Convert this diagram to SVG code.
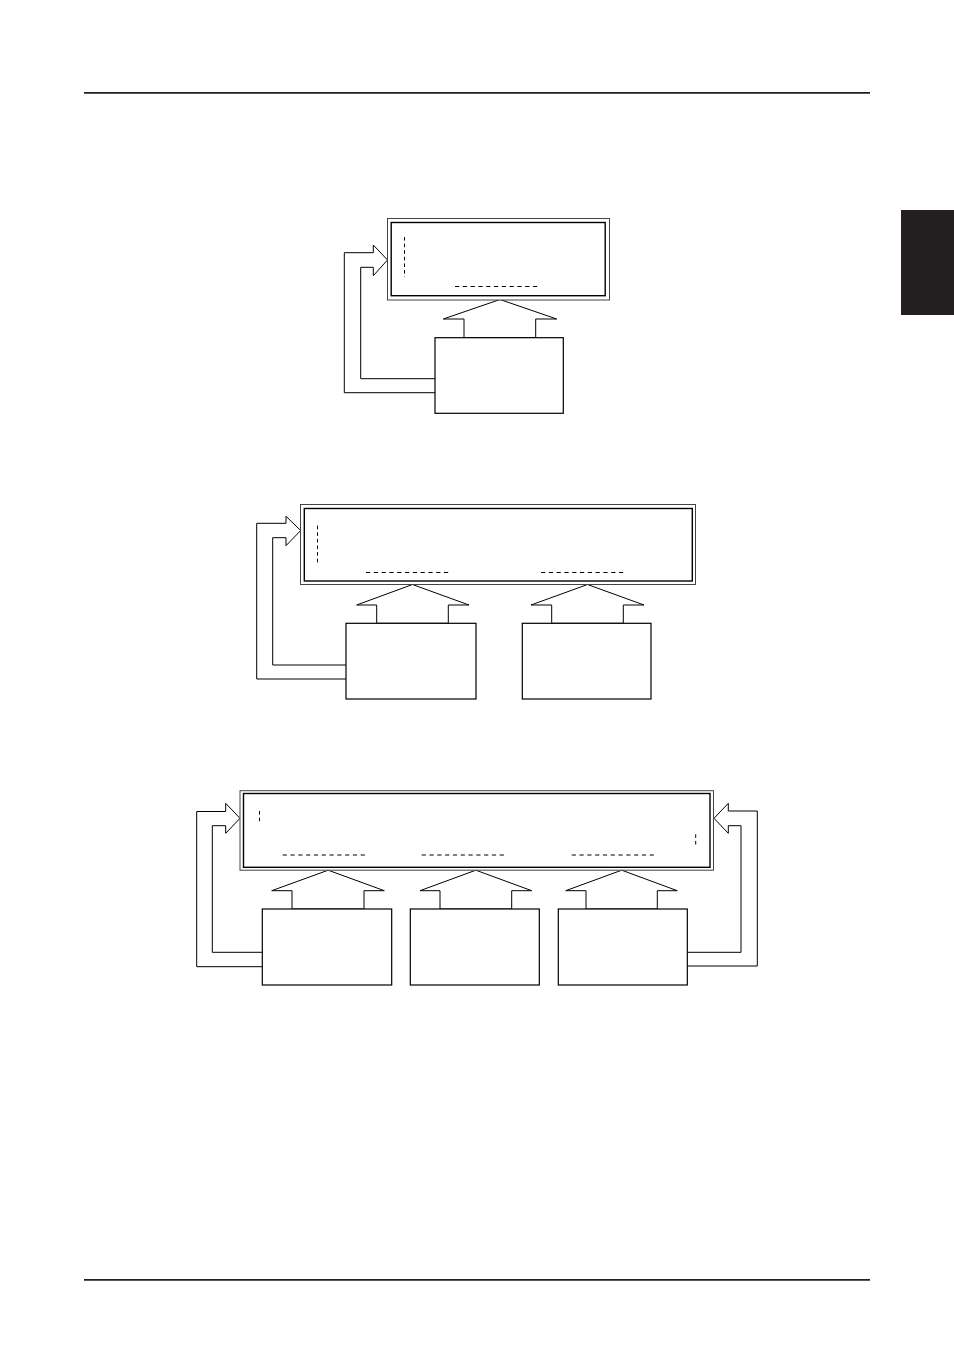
<svg xmlns="http://www.w3.org/2000/svg" width="954" height="1348" viewBox="0 0 954 1348">
<style>
.outer{fill:#fff;stroke:#444;stroke-width:1}
.inner{fill:none;stroke:#000;stroke-width:1.4}
.box{fill:#fff;stroke:#000;stroke-width:1.2}
.arr{fill:#fff;stroke:#000;stroke-width:1}
.fb{fill:#fff;stroke:#000;stroke-width:1;stroke-linejoin:miter}
.dh{stroke:#000;stroke-width:1;stroke-dasharray:4.2 3.6;fill:none}
.dv{stroke:#000;stroke-width:1;stroke-dasharray:3.6 3;fill:none}
.rule{stroke:#231f20;stroke-width:1.8}
</style>
<rect width="954" height="1348" fill="#fff"/>
<g id="page">
<line class="rule" x1="84" y1="92.8" x2="870" y2="92.8"/>
<line class="rule" x1="84" y1="1279.8" x2="870" y2="1279.8"/>
<rect x="901" y="210" width="53" height="105" fill="#231f20"/>
</g>

<g id="connectors">
<polygon class="arr" points="500,299.5 556.7,319 535.7,319 535.7,337.7 464,337.7 464,319 443.3,319"/>
<polyline class="fb" points="435,392.7 344.3,392.7 344.3,252.7 373.3,252.7 373.3,245 387.5,260 373.3,275.7 373.3,267.3 360.7,267.3 360.7,378.7 435,378.7"/>
<polygon class="arr" points="412.5,584.5 469,605 448.3,605 448.3,623.3 376.7,623.3 376.7,605 356.7,605"/>
<polygon class="arr" points="587.5,584.5 644,605 623.3,605 623.3,623.3 551.7,623.3 551.7,605 531,605"/>
<polyline class="fb" points="346,679 256.7,679 256.7,523.3 286,523.3 286,516.3 300.7,530.5 286,545.7 286,537.7 272.7,537.7 272.7,665 346,665"/>
<polygon class="arr" points="328.2,870.2 384.3,890.7 364,890.7 364,909 292,909 292,890.7 271.7,890.7"/>
<polygon class="arr" points="475.8,870.2 531.7,890.7 511.7,890.7 511.7,909 440,909 440,890.7 420,890.7"/>
<polygon class="arr" points="621.7,870.2 677.3,890.7 657.3,890.7 657.3,909 586,909 586,890.7 565.7,890.7"/>
<polyline class="fb" points="262.3,966.7 196.7,966.7 196.7,811.5 225.7,811.5 225.7,803.3 240,818.3 225.7,833.3 225.7,825.7 212.3,825.7 212.3,952.3 262.3,952.3"/>
<polyline class="fb" points="687.3,966 757.3,966 757.3,811 728.3,811 728.3,803.3 714,818.3 728.3,833.3 728.3,825.7 741,825.7 741,952.3 687.3,952.3"/>
</g>

<!-- Diagram 1 -->
<g id="d1-display">
<rect class="outer" x="387.5" y="218.5" width="222" height="81.5"/>
<rect class="inner" x="391.2" y="222.5" width="214" height="73.2"/>
<line class="dv" x1="404.5" y1="237" x2="404.5" y2="277"/>
<line class="dh" x1="455" y1="286.5" x2="540" y2="286.5"/>
</g>
<g id="d1-unit">
<rect class="box" x="435" y="337.7" width="128.3" height="75.6"/>
</g>

<!-- Diagram 2 -->
<g id="d2-display">
<rect class="outer" x="300.5" y="504.5" width="395" height="80"/>
<rect class="inner" x="304.3" y="508.5" width="388" height="72.5"/>
<line class="dv" x1="317.5" y1="525.7" x2="317.5" y2="565"/>
<line class="dh" x1="366" y1="572.5" x2="451.7" y2="572.5"/>
<line class="dh" x1="541" y1="572.5" x2="626.7" y2="572.5"/>
</g>
<g id="d2-unit1">
<rect class="box" x="346" y="623.3" width="130" height="75.7"/>
</g>
<g id="d2-unit2">
<rect class="box" x="522.3" y="623.3" width="128.7" height="75.7"/>
</g>

<!-- Diagram 3 -->
<g id="d3-display">
<rect class="outer" x="240" y="790.7" width="473.5" height="79.5"/>
<rect class="inner" x="243.5" y="793.5" width="466.5" height="73.8"/>
<line class="dv" x1="259.5" y1="811" x2="259.5" y2="822.5"/>
<line class="dv" x1="695.7" y1="834.3" x2="695.7" y2="845.7"/>
<line class="dh" x1="282.7" y1="855" x2="368.3" y2="855"/>
<line class="dh" x1="421.7" y1="855" x2="507.3" y2="855"/>
<line class="dh" x1="571.7" y1="855" x2="656.7" y2="855"/>
</g>
<g id="d3-unit1">
<rect class="box" x="262.3" y="909" width="129.4" height="76"/>
</g>
<g id="d3-unit2">
<rect class="box" x="410.3" y="909" width="129" height="76"/>
</g>
<g id="d3-unit3">
<rect class="box" x="558.3" y="909" width="129" height="76"/>
</g>
</svg>
